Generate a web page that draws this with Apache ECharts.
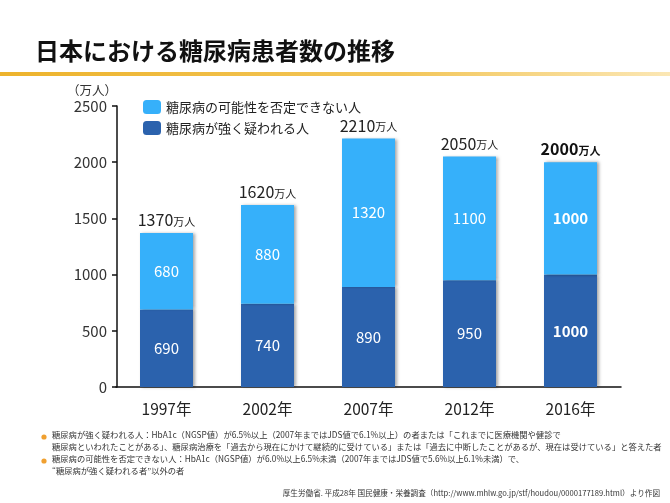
<!DOCTYPE html>
<html lang="ja">
<head>
<meta charset="UTF-8">
<title>日本における糖尿病患者数の推移</title>
<script src="https://cdn.jsdelivr.net/npm/echarts@6/dist/echarts.min.js"></script>
<style>
    html, body { margin: 0; padding: 0; background: #fff; }
    #main { width: 670px; height: 503px; }
</style>
</head>
<body>
<div id="main"></div>
<script type="text/javascript">
    // 年
    var years = ['1997年', '2002年', '2007年', '2012年', '2016年'];
    // 糖尿病が強く疑われる人（万人）
    var strong = [690, 740, 890, 950, 1000];
    // 糖尿病の可能性を否定できない人（万人）
    var possible = [680, 880, 1320, 1100, 1000];
    var yTicks = [0, 500, 1000, 1500, 2000, 2500];

    var notes = [
        '糖尿病が強く疑われる人：HbA1c（NGSP値）が6.5%以上（2007年まではJDS値で6.1%以上）の者または「これまでに医療機関や健診で',
        '糖尿病といわれたことがある」、糖尿病治療を「過去から現在にかけて継続的に受けている」または「過去に中断したことがあるが、現在は受けている」と答えた者',
        '糖尿病の可能性を否定できない人：HbA1c（NGSP値）が6.0%以上6.5%未満（2007年まではJDS値で5.6%以上6.1%未満）で、',
        '“糖尿病が強く疑われる者”以外の者'
    ];
    var source = '厚生労働省. 平成28年 国民健康・栄養調査（http://www.mhlw.go.jp/stf/houdou/0000177189.html）より作図';

    var font = '"Noto Sans CJK JP", "Noto Sans", sans-serif';
    var last = years.length - 1;

    var myChart = echarts.init(document.getElementById('main'));

    var noteGraphics = [];
    for (var i = 0; i < notes.length; i++) {
        noteGraphics.push({
            type: 'text', left: 52, top: 431 + i * 12,
            style: { text: notes[i], fill: '#333', font: '8.3px ' + font }
        });
    }
    // 箇条書きの点
    noteGraphics.push({ type: 'circle', shape: { cx: 44, cy: 437, r: 2.6 }, style: { fill: '#F0A030' } });
    noteGraphics.push({ type: 'circle', shape: { cx: 44, cy: 461, r: 2.6 }, style: { fill: '#F0A030' } });

    myChart.setOption({
        textStyle: { fontFamily: font },
        animation: false,
        title: {
            text: '日本における糖尿病患者数の推移',
            left: 30, top: 34,
            textStyle: { fontSize: 24, fontWeight: 'bold', color: '#111', fontFamily: font }
        },
        graphic: [
            {
                type: 'rect', shape: { x: 0, y: 72, width: 670, height: 4 },
                style: {
                    fill: new echarts.graphic.LinearGradient(0, 0, 1, 0, [
                        { offset: 0, color: '#EDB32C' },
                        { offset: 0.6, color: '#F3C659' },
                        { offset: 1, color: '#FBE7B5' }
                    ])
                }
            },
            {
                type: 'text', right: 10, top: 489,
                style: { text: source, fill: '#333', font: '7.6px ' + font }
            }
        ].concat(noteGraphics),
        legend: {
            orient: 'vertical',
            left: 138, top: 95,
            itemWidth: 18, itemHeight: 14, itemGap: 7,
            textStyle: { fontSize: 13, color: '#222' },
            data: ['糖尿病の可能性を否定できない人', '糖尿病が強く疑われる人']
        },
        grid: { left: 116, top: 106, width: 505, height: 281 },
        xAxis: {
            type: 'category',
            data: years,
            axisLine: { lineStyle: { color: '#111', width: 1.5 } },
            axisTick: { show: false },
            axisLabel: { fontSize: 15.5, color: '#222', margin: 14 }
        },
        yAxis: {
            type: 'value',
            min: 0, max: 2500, interval: 500,
            offset: -1,
            name: '（万人）',
            nameLocation: 'end',
            nameGap: 9,
            nameTextStyle: { fontSize: 12.5, color: '#333', align: 'right', padding: [0, 0, 0, 0] },
            axisLine: { show: true, lineStyle: { color: '#111', width: 1.5 } },
            axisTick: { show: true, length: 5, lineStyle: { color: '#111', width: 1.5 } },
            axisLabel: {
                fontSize: 15, color: '#333', margin: 10,
                formatter: function (v) { return yTicks.indexOf(v) >= 0 ? String(v) : ''; }
            },
            splitLine: { show: false }
        },
        series: [
            {
                name: '糖尿病が強く疑われる人',
                type: 'bar',
                stack: 'all',
                barWidth: 53,
                data: strong.map(function (v, i) {
                    return { value: v, label: { fontWeight: i === last ? 'bold' : 'normal' } };
                }),
                itemStyle: {
                    color: '#2B62AD',
                    shadowColor: 'rgba(0,0,0,0.35)', shadowBlur: 3, shadowOffsetX: 2
                },
                label: { show: true, position: 'inside', color: '#fff', fontSize: 15 }
            },
            {
                name: '糖尿病の可能性を否定できない人',
                type: 'bar',
                stack: 'all',
                barWidth: 53,
                data: possible.map(function (v, i) {
                    return { value: v, label: { fontWeight: i === last ? 'bold' : 'normal' } };
                }),
                itemStyle: {
                    color: '#36B0FA',
                    shadowColor: 'rgba(0,0,0,0.35)', shadowBlur: 3, shadowOffsetX: 2
                },
                label: { show: true, position: 'inside', color: '#fff', fontSize: 15 }
            },
            {
                // 合計ラベル用
                name: 'total',
                type: 'bar',
                stack: 'all',
                barWidth: 53,
                silent: true,
                data: strong.map(function (v, i) {
                    return {
                        value: 0,
                        label: {
                            formatter: (i === last ? '{nb|' : '{n|') + (v + possible[i]) + '}' + (i === last ? '{ub|万人}' : '{u|万人}')
                        }
                    };
                }),
                itemStyle: { color: 'transparent' },
                label: {
                    show: true, position: 'top', distance: 5,
                    rich: {
                        n: { fontSize: 16, color: '#222', fontFamily: font },
                        u: { fontSize: 11, color: '#222', fontFamily: font, padding: [3, 0, 0, 0] },
                        nb: { fontSize: 16, color: '#111', fontWeight: 'bold', fontFamily: font },
                        ub: { fontSize: 11, color: '#111', fontWeight: 'bold', fontFamily: font, padding: [3, 0, 0, 0] }
                    }
                }
            }
        ]
    });
</script>
</body>
</html>
